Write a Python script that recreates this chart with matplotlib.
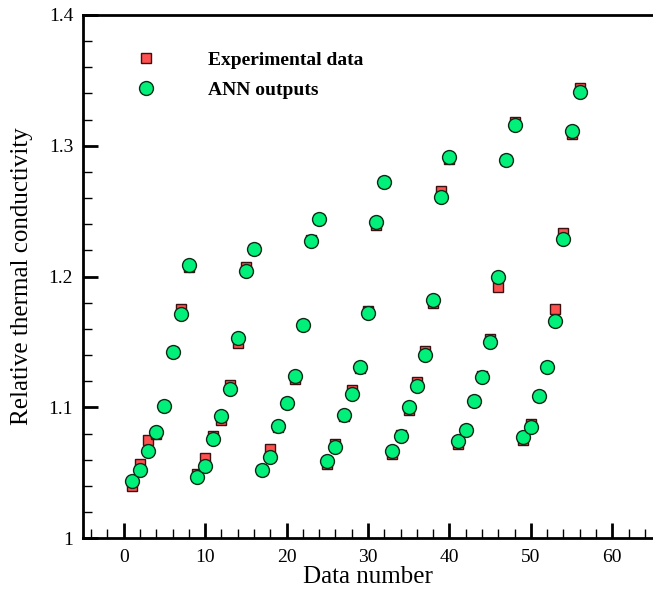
import matplotlib
matplotlib.use('Agg')
import matplotlib.pyplot as plt
from matplotlib.ticker import MultipleLocator, FuncFormatter
import numpy as np

plt.rcParams['font.family'] = ['Liberation Serif', 'DejaVu Serif']

# data number 1..56
data_number = np.arange(1, 57)

experimental = [1.040, 1.057, 1.075, 1.080, 1.101, 1.142, 1.175, 1.207,
                1.049, 1.061, 1.078, 1.090, 1.117, 1.149, 1.207, 1.221,
                1.052, 1.068, 1.085, 1.103, 1.122, 1.163, 1.228, 1.244,
                1.057, 1.072, 1.093, 1.113, 1.130, 1.174, 1.239, 1.272,
                1.064, 1.079, 1.098, 1.119, 1.143, 1.180, 1.265, 1.290,
                1.072, 1.083, 1.105, 1.124, 1.152, 1.192, 1.289, 1.318,
                1.075, 1.087, 1.109, 1.131, 1.175, 1.233, 1.309, 1.344]

ann = [1.044, 1.052, 1.067, 1.081, 1.101, 1.142, 1.171, 1.209,
       1.047, 1.055, 1.076, 1.093, 1.114, 1.153, 1.204, 1.221,
       1.052, 1.062, 1.086, 1.103, 1.124, 1.163, 1.227, 1.244,
       1.059, 1.070, 1.094, 1.110, 1.131, 1.172, 1.242, 1.272,
       1.067, 1.078, 1.100, 1.116, 1.140, 1.182, 1.261, 1.291,
       1.074, 1.083, 1.105, 1.123, 1.150, 1.200, 1.289, 1.316,
       1.077, 1.085, 1.109, 1.131, 1.166, 1.229, 1.311, 1.341]

fig = plt.figure(figsize=(6.53, 5.94), dpi=100)
ax = fig.add_axes([0.127, 0.094, 0.873, 0.881])

ax.plot(data_number, experimental, 's', ms=7.5, mfc='#ff5050', mec='#3a1010',
        mew=1.0, label='Experimental data')
ax.plot(data_number, ann, 'o', ms=10, mfc='#00f07a', mec='#102a18',
        mew=1.0, label='ANN outputs')

ax.set_xlim(-5, 65)
ax.set_ylim(1, 1.4)
ax.xaxis.set_major_locator(MultipleLocator(10))
ax.xaxis.set_minor_locator(MultipleLocator(2))
ax.yaxis.set_major_locator(MultipleLocator(0.1))
ax.yaxis.set_minor_locator(MultipleLocator(0.02))
ax.yaxis.set_major_formatter(FuncFormatter(lambda v, p: '%g' % round(v, 2)))

ax.tick_params(which='both', direction='in', top=False, right=False,
               labelsize=14)
ax.tick_params(which='major', length=11, width=2)
ax.tick_params(which='minor', length=6.5, width=1)
ax.tick_params(axis='x', which='major', pad=8)
ax.tick_params(axis='y', which='major', pad=7)
for s in ['left', 'bottom', 'top']:
    ax.spines[s].set_linewidth(2)
ax.spines['right'].set_visible(False)

ax.set_xlabel('Data number', fontsize=18, labelpad=0)
ax.set_ylabel('Relative thermal conductivity', fontsize=18, labelpad=11)

ax.legend(loc='upper left', bbox_to_anchor=(0.063, 0.945), frameon=False,
          prop={'weight': 'bold', 'size': 14}, handletextpad=2.2,
          labelspacing=0.62, borderaxespad=0)

fig.savefig('out.png', dpi=100)
